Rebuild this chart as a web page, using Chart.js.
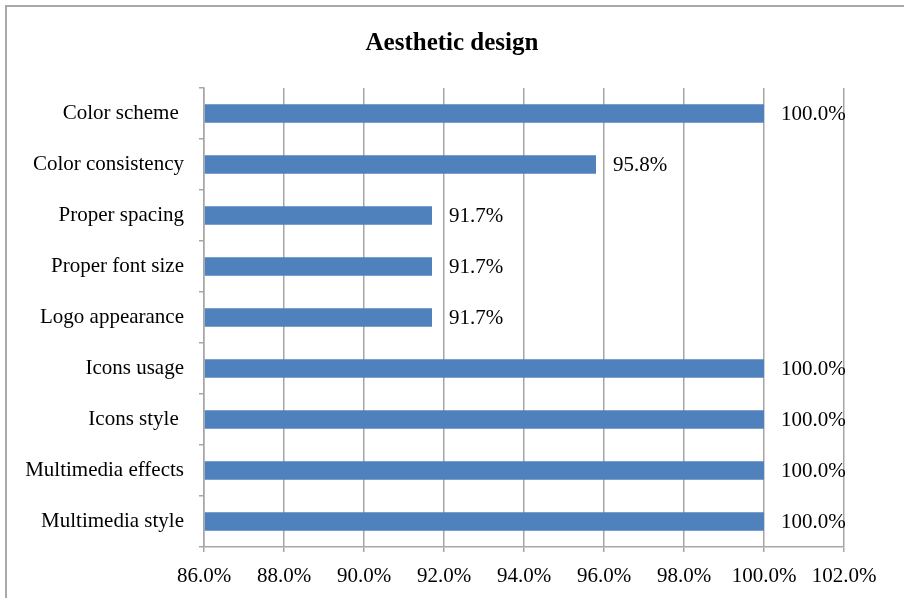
<!DOCTYPE html>
<html>
<head>
<meta charset="utf-8">
<script src="https://cdn.jsdelivr.net/npm/chart.js@4"></script>
<style>
  body { margin: 0; background: #fff; }
  #wrap { position: relative; width: 904px; height: 598px; overflow: hidden; }
  #frame {
    position: absolute; left: 5px; top: 5px; width: 1000px; height: 1000px;
    border-left: 2px solid #a9a9a9; border-top: 2px solid #a9a9a9;
    pointer-events: none;
  }
  canvas { position: absolute; left: 0; top: 0; }
</style>
</head>
<body>
<div id="wrap">
  <canvas id="chart" width="904" height="598"></canvas>
  <div id="frame"></div>
</div>
<script>
// Chart data
const categories = [
  "Color scheme ",
  "Color consistency",
  "Proper spacing",
  "Proper font size",
  "Logo appearance",
  "Icons usage",
  "Icons style ",
  "Multimedia effects",
  "Multimedia style",
];
const scores = [100.0, 95.8, 91.7, 91.7, 91.7, 100.0, 100.0, 100.0, 100.0];
const axisMin = 86;
const axisMax = 102;
const axisStep = 2;

const serif = "'Liberation Serif', 'Times New Roman', serif";
const gridColor = "#a6a6a6";

// value labels to the right of each bar
const barLabels = {
  id: "barLabels",
  afterDatasetsDraw(chart) {
    const ctx = chart.ctx;
    const meta = chart.getDatasetMeta(0);
    ctx.save();
    ctx.font = "21px " + serif;
    ctx.fillStyle = "#000";
    ctx.textAlign = "left";
    ctx.textBaseline = "middle";
    meta.data.forEach((bar, i) => {
      ctx.fillText(scores[i].toFixed(1) + "%", bar.x + 17, bar.y + 1);
    });
    ctx.restore();
  },
};

const ctx = document.getElementById("chart").getContext("2d");
new Chart(ctx, {
  type: "bar",
  data: {
    labels: categories,
    datasets: [
      {
        data: scores,
        base: axisMin,
        backgroundColor: "#4f81bd",
        borderWidth: 0,
        barPercentage: 0.36,
        categoryPercentage: 1,
      },
    ],
  },
  options: {
    indexAxis: "y",
    responsive: false,
    animation: false,
    layout: { padding: { left: 0, right: 0, top: 0, bottom: 8 } },
    plugins: {
      legend: { display: false },
      tooltip: { enabled: false },
      title: {
        display: true,
        text: "Aesthetic design",
        color: "#000",
        font: { family: serif, size: 25, weight: "bold", lineHeight: 1.2 },
        padding: { top: 29, bottom: 29 },
      },
    },
    scales: {
      x: {
        min: axisMin,
        max: axisMax,
        afterFit(scale) {
          scale.paddingRight = 60;
          scale.height = 43;
        },
        ticks: {
          stepSize: axisStep,
          color: "#000",
          padding: 12,
          maxRotation: 0,
          font: { family: serif, size: 21 },
          callback: (v) => v.toFixed(1) + "%",
        },
        grid: { color: gridColor, lineWidth: 1.5, tickLength: 5 },
        border: { color: gridColor, width: 1.5 },
      },
      y: {
        afterFit(scale) {
          scale.width = 204;
          scale.paddingTop = 0;
          scale.paddingBottom = 0;
        },
        ticks: {
          color: "#000",
          padding: 15,
          font: { family: serif, size: 21 },
        },
        grid: {
          drawOnChartArea: false,
          color: gridColor,
          lineWidth: 1.5,
          tickLength: 5,
        },
        border: { color: gridColor, width: 1.5 },
      },
    },
  },
  plugins: [barLabels],
});
</script>
</body>
</html>
